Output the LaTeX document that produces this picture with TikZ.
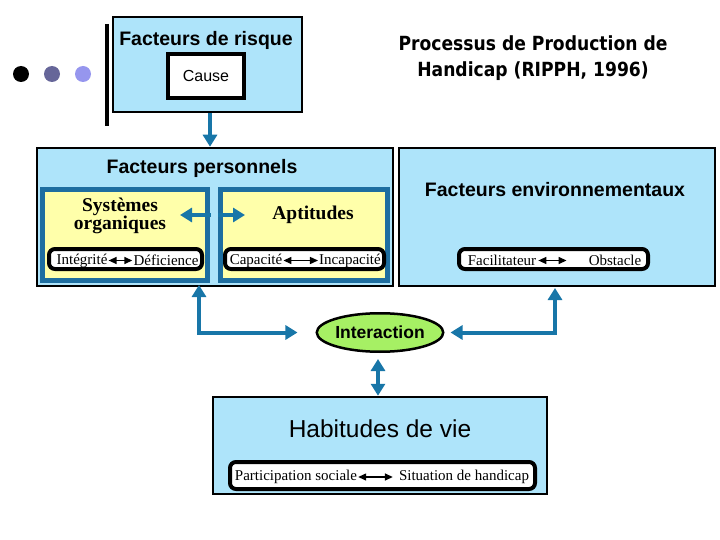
\documentclass[tikz,border=0pt]{standalone}
\usepackage{fontspec}
\setmainfont{Liberation Serif}
\newfontfamily\arial{Liberation Sans}
\newfontfamily\titlef[FakeStretch=0.88]{DejaVu Sans}
\usetikzlibrary{arrows.meta,shapes.geometric}
\definecolor{lblue}{RGB}{174,228,250}
\definecolor{lyellow}{RGB}{255,255,170}
\definecolor{ablue}{RGB}{24,118,168}
\definecolor{bblue}{RGB}{30,110,160}
\definecolor{igreen}{RGB}{166,240,100}
\definecolor{dotgray}{RGB}{102,102,153}
\definecolor{dotlav}{RGB}{150,150,238}
\tikzset{
  box/.style={draw=black, line width=2.5pt, fill=lblue, inner sep=0pt},
  ybox/.style={draw=bblue, line width=5pt, fill=lyellow, inner sep=0pt},
  wbox/.style={draw=black, line width=4pt, fill=white, rounded corners=6pt, inner sep=0pt},
  bigarrow/.style={draw=ablue, line width=4pt, -{Triangle[length=12pt,width=14pt]}},
  dbigarrow/.style={draw=ablue, line width=4pt, {Triangle[length=12pt,width=14pt]}-{Triangle[length=12pt,width=14pt]}},
  karrow/.style={draw=black, line width=1.4pt, {Triangle[length=8pt,width=7pt]}-{Triangle[length=8pt,width=7pt]}},
  headtxt/.style={font=\arial\bfseries\fontsize{19.5}{23}\selectfont, inner sep=0pt},
  smalltxt/.style={font=\fontsize{15}{18}\selectfont, inner sep=1pt},
  serifb/.style={font=\bfseries\fontsize{19.5}{18}\selectfont, align=center, inner sep=0pt}
}
\begin{document}
\begin{tikzpicture}[x=1pt,y=-1pt]
\useasboundingbox (0,0) rectangle (720,540);
% bullets and bar
\fill[black] (21,74) circle (8);
\fill[dotgray] (52,74) circle (8);
\fill[dotlav] (83,74) circle (8);
\draw[line width=3.5pt] (107,24) -- (107,126);
% risk box
\node[box, minimum width=189pt, minimum height=95pt] (risk) at (207.5,64.5) {};
\node[headtxt] (risktxt) at (206,40) {Facteurs de risque};
\node[draw=black, line width=4pt, fill=white, minimum width=76pt, minimum height=44pt,
      font=\arial\fontsize{16}{19}\selectfont] (cause) at (206,76) {Cause};
% title
\node[font=\titlef\bfseries\fontsize{19.5}{26}\selectfont, align=center] (title) at (533,58)
  {Processus de Production de\\Handicap (RIPPH, 1996)};
% personal factors
\node[box, minimum width=356pt, minimum height=138pt] (pers) at (215,217) {};
\node[headtxt] (perstxt) at (202,168) {Facteurs personnels};
\node[ybox, minimum width=165pt, minimum height=91pt] (sys) at (125,235) {};
\node[ybox, minimum width=167pt, minimum height=91pt] (apt) at (304,235) {};
\node[serifb] (systxt) at (120,216) {Systèmes\\organiques};
\node[serifb] (apttxt) at (313,215) {Aptitudes};
\coordinate (sysar) at (180,215);
\coordinate (aptar) at (245,215);
\draw[dbigarrow] (sysar) -- (aptar);
\fill[lblue] (210.5,208) rectangle (217.5,222);
\node[wbox, minimum width=153pt, minimum height=20pt] (intbox) at (125.5,259) {};
\node[smalltxt] (integ) at (82,260.5) {Intégrité};
\node[smalltxt] (defic) at (166,260.5) {Déficience};
\draw[karrow] (integ.east) -- (defic.west);
\node[wbox, minimum width=159pt, minimum height=20pt] (capbox) at (304.5,259) {};
\node[smalltxt] (capa) at (256,260.5) {Capacité};
\node[smalltxt] (incapa) at (350,260.5) {Incapacité};
\draw[karrow] (capa.east) -- (incapa.west);
% environmental factors
\node[box, minimum width=316pt, minimum height=138pt] (env) at (557,217) {};
\node[headtxt] (envtxt) at (555,190) {Facteurs environnementaux};
\node[wbox, minimum width=189pt, minimum height=20pt] (facbox) at (553.5,259) {};
\node[smalltxt] (facil) at (502,260.5) {Facilitateur};
\node[smalltxt] (obst) at (615,260.5) {Obstacle};
\draw[karrow, shorten <=1pt, shorten >=21pt] (facil.east) -- (obst.west);
% risk -> personal
\draw[bigarrow] ([xshift=2.5pt]risk.south) -- ([xshift=2.5pt]risk.south |- pers.north);
% interaction
\node[ellipse, draw=black, line width=2.5pt, fill=igreen, minimum width=111.5pt,
      minimum height=38.5pt, inner sep=0pt, font=\arial\bfseries\fontsize{17.5}{20}\selectfont]
      (inter) at (380,332.5) {Interaction};
\coordinate (lt) at (199,285);
\coordinate (rt) at (555,288);
\draw[dbigarrow, shorten >=18pt] (lt) |- (inter.west);
\draw[dbigarrow, shorten >=6pt] (rt) |- (inter.east);
% life habits
\node[box, minimum width=334pt, minimum height=97pt] (habit) at (380,445.5) {};
\node[font=\arial\fontsize{24.5}{28}\selectfont, inner sep=0pt] (habtxt) at (380,429) {Habitudes de vie};
\draw[dbigarrow, shorten <=6pt] ([xshift=-2pt]inter.south) -- ([xshift=-2pt]inter.south |- habit.north);
\node[wbox, minimum width=305pt, minimum height=27pt] (partbox) at (382.5,475.5) {};
\node[smalltxt] (part) at (296,477) {Participation sociale};
\node[smalltxt] (situ) at (464,477) {Situation de handicap};
\draw[karrow, shorten >=5pt] (part.east) -- (situ.west);
\end{tikzpicture}
\end{document}
